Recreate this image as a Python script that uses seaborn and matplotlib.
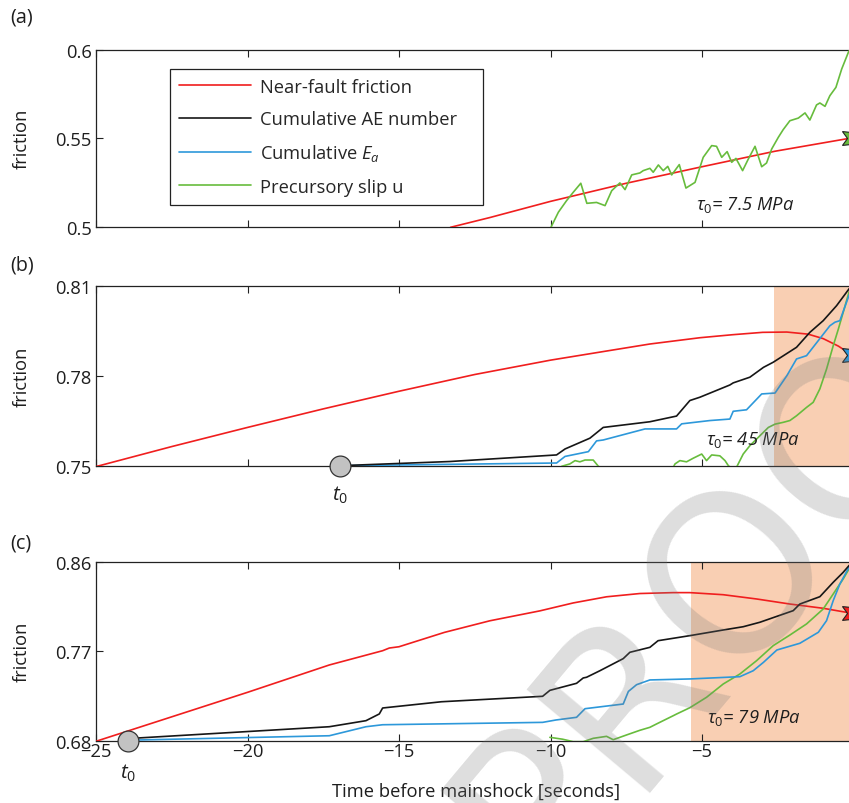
import numpy as np
import pandas as pd
import matplotlib
matplotlib.use("Agg")
import matplotlib.pyplot as plt
import seaborn as sns
from matplotlib.lines import Line2D

# ---------------- data ----------------
legend_labels = ["Near-fault friction", "Cumulative AE number",
                 r"Cumulative $E_a$", "Precursory slip u"]
panel_labels = ["(a)", "(b)", "(c)"]
stress_labels = [r"$\tau_\mathit{0}$= 7.5 MPa", r"$\tau_\mathit{0}$= 45 MPa",
                 r"$\tau_\mathit{0}$= 79 MPa"]

# panel (a)
a_red_t = [-13.3, -12.0, -10.0, -7.5, -5.0, -2.6, 0.0]
a_red_y = [0.500, 0.5055, 0.5146, 0.5248, 0.5341, 0.5428, 0.5505]
a_grn_t = [-10.0, -9.74, -9.47, -9.25, -9.0, -8.8, -8.48, -8.2, -7.98, -7.71, -7.54,
           -7.32, -7.05, -6.94, -6.72, -6.61, -6.44, -6.28, -6.13, -6.0, -5.75,
           -5.53, -5.23, -4.96, -4.68, -4.52, -4.35, -4.17, -4.02, -3.88, -3.66,
           -3.47, -3.25, -3.03, -2.87, -2.70, -2.48, -2.32, -2.10, -1.82, -1.60,
           -1.44, -1.22, -1.11, -0.94, -0.78, -0.58, -0.39, -0.17, 0.0]
a_grn_y = [0.4995, 0.5085, 0.515, 0.5197, 0.5248, 0.5135, 0.514, 0.5122, 0.5206, 0.525,
           0.5212, 0.5295, 0.5306, 0.5319, 0.5332, 0.531, 0.5351, 0.5319, 0.5343,
           0.5295, 0.5353, 0.5221, 0.5253, 0.5394, 0.546, 0.5456, 0.5394, 0.5426,
           0.5366, 0.5388, 0.5319, 0.5385, 0.5456, 0.5341, 0.5362, 0.5441, 0.5507,
           0.555, 0.56, 0.5615, 0.5644, 0.5604, 0.5689, 0.57, 0.5681, 0.5741,
           0.5788, 0.5891, 0.5985, 0.604]
a_star_y = 0.5505

# panel (b)
b_red_t = [-25.0, -22.5, -20.0, -17.5, -15.0, -12.5, -10.0, -8.0, -6.72, -5.07, -4.0,
           -3.0, -2.2, -1.5, -1.0, -0.5, -0.2, 0.0]
b_red_y = [0.7497, 0.7564, 0.7628, 0.7690, 0.7749, 0.7805, 0.7853, 0.7886, 0.7907,
           0.7928, 0.7938, 0.7946, 0.7947, 0.7940, 0.7925, 0.7900, 0.7880, 0.7865]
b_blk_t = [-16.95, -13.32, -9.80, -9.52, -8.70, -8.26, -6.72, -5.84, -5.40, -5.07,
           -4.08, -3.97, -3.42, -2.97, -2.65, -1.88, -1.44, -1.0, -0.56, -0.15, 0.0]
b_blk_y = [0.750, 0.7514, 0.7536, 0.7556, 0.7592, 0.7628, 0.7647, 0.7666, 0.7718, 0.7729,
           0.777, 0.7777, 0.7796, 0.7829, 0.7846, 0.7896, 0.7946, 0.7985, 0.8035, 0.8091, 0.811]
b_blu_t = [-16.95, -9.80, -9.52, -8.75, -8.48, -8.26, -6.88, -5.84, -5.67, -4.74,
           -4.08, -3.97, -3.53, -3.03, -2.59, -2.2, -1.88, -1.55, -0.78, -0.61,
           -0.45, -0.15, 0.0]
b_blu_y = [0.750, 0.7509, 0.7531, 0.7547, 0.7583, 0.7586, 0.7623, 0.7623, 0.764, 0.7651,
           0.7656, 0.7682, 0.7687, 0.774, 0.7743, 0.7801, 0.7857, 0.7868, 0.7968,
           0.798, 0.7985, 0.8069, 0.810]
b_grn_t = [-9.69, -9.63, -9.36, -9.19, -9.03, -8.86, -8.59, -8.42, -8.2, -6.0,
           -5.89, -5.73, -5.51, -5.29, -5.01, -4.85, -4.68, -4.41, -4.24, -4.13,
           -3.95, -3.86, -3.64, -3.42, -3.09, -2.81, -2.59, -2.32, -2.1, -1.88,
           -1.55, -1.33, -1.11, -0.89, -0.67, -0.50, -0.34, -0.15, 0.0]
b_grn_y = [0.7485, 0.7498, 0.7506, 0.7517, 0.7513, 0.7519, 0.7519, 0.7498, 0.7485, 0.7485,
           0.7506, 0.7517, 0.7513, 0.7525, 0.7539, 0.7517, 0.7536, 0.7533, 0.7517,
           0.750, 0.7485, 0.7495, 0.7539, 0.7567, 0.760, 0.7628, 0.7639, 0.7645,
           0.7651, 0.7667, 0.7695, 0.7712, 0.7757, 0.7823, 0.7901, 0.7957, 0.8013,
           0.808, 0.811]
b_star_y = 0.787
b_t0 = -16.95
b_shade = -2.62

# panel (c)
c_red_t = [-25.0, -20.0, -17.3, -15.54, -15.32, -15.0, -13.5, -12.0, -10.35, -9.25,
           -8.15, -7.05, -5.95, -5.40, -4.30, -3.2, -2.1, -1.0, -0.23, 0.0]
c_red_y = [0.6794, 0.7288, 0.7564, 0.7708, 0.7735, 0.7748, 0.7893, 0.8010, 0.8110, 0.8190,
           0.8252, 0.8285, 0.8294, 0.8294, 0.8273, 0.823, 0.8179, 0.8136, 0.8095, 0.808]
c_blk_t = [-23.95, -23.63, -17.3, -16.09, -15.65, -15.54, -13.6, -10.26, -10.02, -9.14,
           -8.92, -8.81, -8.37, -7.60, -7.38, -6.72, -6.45, -5.40, -4.30, -3.64,
           -3.09, -1.99, -1.77, -1.11, -0.67, -0.34, -0.15, 0.0]
c_blk_y = [0.680, 0.6827, 0.6941, 0.7002, 0.707, 0.713, 0.7193, 0.7248, 0.7308, 0.7379,
           0.7433, 0.744, 0.7506, 0.7628, 0.7692, 0.7742, 0.7809, 0.786, 0.7917,
           0.795, 0.7995, 0.8112, 0.8179, 0.8253, 0.8398, 0.8499, 0.8566, 0.861]
c_blu_t = [-23.95, -23.63, -17.3, -16.09, -15.54, -10.26, -9.82, -9.14, -8.86, -7.60,
           -7.43, -7.16, -6.72, -5.40, -3.75, -3.31, -2.97, -2.53, -1.77, -1.16,
           -0.89, -0.67, -0.45, -0.15, 0.0]
c_blu_y = [0.680, 0.6807, 0.685, 0.6941, 0.6961, 0.6985, 0.7009, 0.7036, 0.7123, 0.717,
           0.7297, 0.7365, 0.7413, 0.7423, 0.7446, 0.7506, 0.7591, 0.7715, 0.7783,
           0.7894, 0.8011, 0.8213, 0.8381, 0.855, 0.861]
c_grn_t = [-10.02, -9.6, -9.25, -8.92, -8.59, -8.15, -7.93, -7.49, -7.05, -6.72, -6.50,
           -5.95, -5.84, -5.40, -4.85, -4.30, -3.75, -3.20, -2.65, -2.10, -1.55,
           -1.0, -0.67, -0.34, 0.0]
c_grn_y = [0.6834, 0.6815, 0.679, 0.679, 0.6824, 0.6844, 0.681, 0.6858, 0.6905, 0.6935,
           0.6969, 0.7052, 0.7069, 0.7133, 0.7238, 0.7372, 0.7473, 0.7607, 0.7759,
           0.7866, 0.7978, 0.8129, 0.828, 0.8432, 0.861]
c_star_y = 0.809
c_t0 = -23.95
c_shade = -5.36

x_ticks = [-25, -20, -15, -10, -5]
x_ticklabels = ["\u221225", "\u221220", "\u221215", "\u221210", "\u22125"]
ylims = [(0.5, 0.6), (0.75, 0.81), (0.68, 0.86)]
y_ticks = [[0.5, 0.55, 0.6], [0.75, 0.78, 0.81], [0.68, 0.77, 0.86]]
y_ticklabels = [["0.5", "0.55", "0.6"], ["0.75", "0.78", "0.81"], ["0.68", "0.77", "0.86"]]

# ---------------- style ----------------
RED = "#F01E1E"
BLACK = "#161616"
BLUE = "#2D98DA"
GREEN = "#67BC3D"
SHADE = "#F9CFB3"
SPINE = "#222222"
TXT = "#1e1e1e"
LW = 1.2

sns.set_style("ticks")
plt.rcParams["font.family"] = ["Open Sans", "DejaVu Sans"]
plt.rcParams["mathtext.fontset"] = "custom"
plt.rcParams["mathtext.rm"] = "Open Sans"
plt.rcParams["mathtext.it"] = "Open Sans:italic"
plt.rcParams["mathtext.fallback"] = "stixsans"
FS = 13.2

W, H = 849, 804
fig = plt.figure(figsize=(W / 100, H / 100), dpi=100)
fig.patch.set_facecolor("white")

left = 96 / W
width = (853.5 - 96) / W
boxes = [(50.7, 228.3), (287.3, 466.7), (563.3, 741.7)]
axes = []
for top, bot in boxes:
    ax = fig.add_axes([left, 1 - bot / H, width, (bot - top) / H])
    axes.append(ax)


def style(ax, i, show_x):
    ax.set_xlim(-25, 0)
    ax.set_ylim(*ylims[i])
    ax.set_xticks(x_ticks)
    ax.set_yticks(y_ticks[i])
    ax.set_yticklabels(y_ticklabels[i])
    if show_x:
        ax.set_xticklabels(x_ticklabels)
    else:
        ax.set_xticklabels([])
    ax.tick_params(direction="in", top=True, right=False, length=5, width=0.8,
                   color=SPINE, labelsize=FS, pad=3, labelcolor=TXT)
    ax.tick_params(axis="x", pad=1)
    for s in ax.spines.values():
        s.set_color(SPINE)
        s.set_linewidth(0.9)
    ax.set_xlabel("")
    ax.set_ylabel("")
    ax.set_facecolor("white")


def line(ax, t, y, c):
    sns.lineplot(x=t, y=y, ax=ax, color=c, lw=LW, sort=False, estimator=None,
                 legend=False, zorder=3)


def star(ax, y, c):
    ax.plot([0], [y], marker=(6, 1, 0), markersize=20, mfc=c, mec="#222222",
            mew=0.8, clip_on=False, zorder=6, ls="none")


def t0(ax, x, y, ylab):
    ax.plot([x], [y], marker="o", markersize=15, mfc="#C2C2C2", mec="#333333",
            mew=0.9, clip_on=False, zorder=7, ls="none")
    ax.text(x, ylab, r"$t_\mathit{0}$", fontsize=FS + 1.5, ha="center", va="center",
            clip_on=False, color=TXT)


# (a)
ax = axes[0]
line(ax, a_red_t, a_red_y, RED)
line(ax, a_grn_t, a_grn_y, GREEN)
star(ax, a_star_y, GREEN)
style(ax, 0, False)
ax.text(-5.2, 0.5131, stress_labels[0], fontsize=FS, style="italic", ha="left",
        va="center", color=TXT)
handles = [Line2D([], [], color=c, lw=LW) for c in [RED, BLACK, BLUE, GREEN]]
leg = ax.legend(handles, legend_labels, loc="upper left",
                bbox_to_anchor=(0.0977, 0.131, 0.4132, 0.762), mode="expand",
                frameon=True, fancybox=False,
                edgecolor="#222222", framealpha=1, fontsize=FS, handlelength=3.9,
                handletextpad=0.5, labelspacing=0.78, borderpad=0.5,
                borderaxespad=0)
leg.get_frame().set_linewidth(0.9)

# (b)
ax = axes[1]
ax.axvspan(b_shade, 0, color=SHADE, lw=0, zorder=0)
line(ax, b_red_t, b_red_y, RED)
line(ax, b_grn_t, b_grn_y, GREEN)
line(ax, b_blu_t, b_blu_y, BLUE)
line(ax, b_blk_t, b_blk_y, BLACK)
star(ax, b_star_y, BLUE)
t0(ax, b_t0, 0.75, 0.7405)
style(ax, 1, False)
ax.text(-4.87, 0.7589, stress_labels[1], fontsize=FS, style="italic", ha="left",
        va="center", color=TXT)

# (c)
ax = axes[2]
ax.axvspan(c_shade, 0, color=SHADE, lw=0, zorder=0)
line(ax, c_red_t, c_red_y, RED)
line(ax, c_grn_t, c_grn_y, GREEN)
line(ax, c_blu_t, c_blu_y, BLUE)
line(ax, c_blk_t, c_blk_y, BLACK)
star(ax, c_star_y, RED)
t0(ax, c_t0, 0.68, 0.6484)
style(ax, 2, True)
ax.text(-4.85, 0.7039, stress_labels[2], fontsize=FS, style="italic", ha="left",
        va="center", color=TXT)

# labels
for lab, yc in zip(panel_labels, [18, 265, 543]):
    fig.text(10 / W, 1 - yc / H, lab, fontsize=FS + 1, ha="left", va="center",
             color=TXT)
for yc in [139, 377, 652]:
    fig.text(22 / W, 1 - yc / H, "friction", fontsize=FS, rotation=90,
             ha="center", va="center", color=TXT)
fig.text(476 / W, 1 - 792 / H, "Time before mainshock [seconds]", fontsize=FS,
         ha="center", va="center", color=TXT)

# watermark
fig.text(742 / W, 1 - 562 / H, "PROOF", fontsize=160, fontweight="normal",
         family="DejaVu Sans", color="#7a7a7a", alpha=0.25, rotation=50,
         rotation_mode="anchor", ha="center", va="center", zorder=10)

fig.savefig("out.png", dpi=100)
